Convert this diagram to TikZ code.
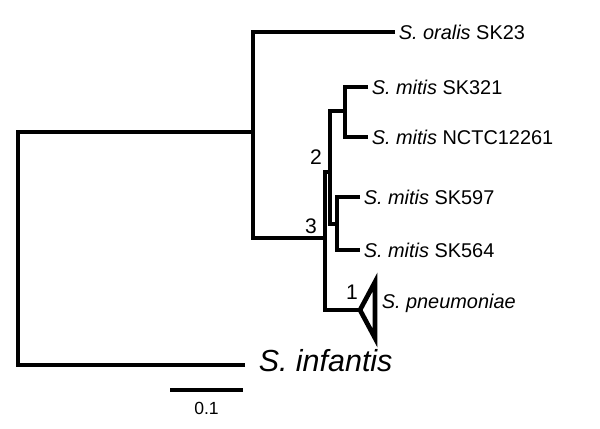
\documentclass[tikz,border=0pt]{standalone}
\usepackage{fontspec}
\setmainfont{Liberation Sans}
\usetikzlibrary{calc}
\begin{document}
\begin{tikzpicture}[x=0.03cm,y=-0.03cm,
	branch/.style={line width=4pt},
	taxon/.style={anchor=west,inner sep=3pt,font=\fontsize{17}{19}\selectfont},
	support/.style={inner sep=0pt,font=\fontsize{18}{20}\selectfont}]
	\useasboundingbox (0,0) rectangle (600,428);
	%internal nodes
	\coordinate (root) at (18,132);
	\coordinate (n4) at (253,132);
	\coordinate (n3) at (325,238);
	\coordinate (n2) at (330,172);
	\coordinate (na) at (345,111);
	\coordinate (nb) at (337,224);
	\coordinate (tri) at (360,310);
	
	%tips
	\node[taxon] (oral) at (395,32) {\textit{S. oralis} SK23};
	\node[taxon] (m321) at (368,87) {\textit{S. mitis} SK321};
	\node[taxon] (mnct) at (368,137) {\textit{S. mitis} NCTC12261};
	\node[taxon] (m597) at (360,197) {\textit{S. mitis} SK597};
	\node[taxon] (m564) at (360,250) {\textit{S. mitis} SK564};
	\node[taxon] (pneu) at (378,303) {\textit{S. pneumoniae}};
	\node[taxon,font=\fontsize{26}{28}\selectfont] (inf) at (255,361) {\textit{S. infantis}};
	
	%branches
	\draw[branch] (245,365) -| (root) |- (n4);
	\draw[branch] (oral.west) -| (n4) |- (n3);
	\draw[branch] (tri) -| (n3) |- (n2);
	\draw[branch] (na) -| (n2) |- (nb);
	\draw[branch] (m321.west) -| (na) |- (mnct.west);
	\draw[branch] (m597.west) -| (nb) |- (m564.west);
	\draw[branch,line join=miter] (tri) -- (375,282) -- (375,338) -- cycle;
	
	%support values
	\node[support] (s1) at (352,292) {1};
	\node[support] (s2) at (316,157) {2};
	\node[support] (s3) at (311,226) {3};
	
	%scale bar
	\draw[branch] (170,390) coordinate (sa) -- (243,390) coordinate (sb);
	\node[font=\fontsize{15}{17}\selectfont] (scale) at ($(sa)!0.5!(sb)+(0,18)$) {0.1};
\end{tikzpicture}
\end{document}
